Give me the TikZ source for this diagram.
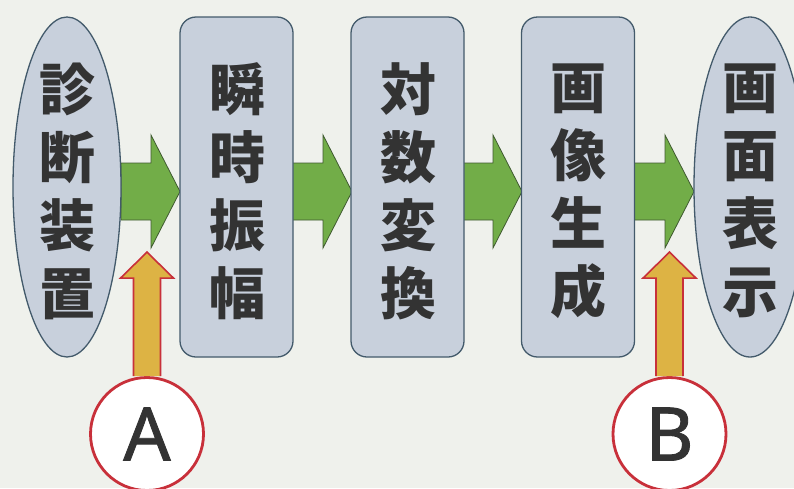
\documentclass[tikz,border=0pt]{standalone}
\usepackage{fontspec}
\newfontfamily\cjk{Noto Sans CJK JP}
\newfontfamily\lat[FakeBold=1.2]{Noto Sans}
\usetikzlibrary{shapes.geometric,calc}
\definecolor{bg}{HTML}{EFF1EC}
\definecolor{shapefill}{HTML}{C8D0DC}
\definecolor{shapeline}{HTML}{435A6B}
\definecolor{gfill}{HTML}{72AD48}
\definecolor{gline}{HTML}{3F5A30}
\definecolor{ofill}{HTML}{DDB344}
\definecolor{oline}{HTML}{C8303A}
\definecolor{txtc}{HTML}{333333}
\tikzset{
  ovalbox/.style={ellipse, draw=shapeline, fill=shapefill, line width=1.3pt, minimum width=108pt, minimum height=340pt, inner sep=0pt},
  stagebox/.style={rectangle, rounded corners=16pt, draw=shapeline, fill=shapefill, line width=1.3pt, minimum width=113pt, minimum height=340pt, inner sep=0pt},
  vtext/.style={align=center, text=txtc, font=\cjk\bfseries\fontsize{56}{68}\selectfont, inner sep=0pt},
  garrow/.style={fill=gfill, draw=gline, line width=0.8pt, line join=miter},
  oarrow/.style={fill=ofill, draw=oline, line width=1.6pt, line join=miter},
  markcircle/.style={circle, draw=oline, fill=white, line width=2.8pt, minimum size=113pt, inner sep=0pt, text=txtc, font=\lat\fontsize{74}{80}\selectfont}
}
\begin{document}
\begin{tikzpicture}[x=1pt,y=-1pt]
\fill[bg] (0,0) rectangle (794,488);
\useasboundingbox (0,0) rectangle (794,488);
\clip (0,0) rectangle (794,488);

% shapes (positions)
\coordinate (e0c) at (67,187);
\coordinate (b1c) at (236.5,187);
\coordinate (b2c) at (407.5,187);
\coordinate (b3c) at (578,187);
\coordinate (e4c) at (750,187);

% green arrows (drawn first, shapes on top)
\foreach \s/\t in {121/180, 290/352, 460/522, 632/694}{
  \draw[garrow] (\s,163) -- (\t-29,163) -- (\t-29,135) -- (\t,191.5) -- (\t-29,248) -- (\t-29,220) -- (\s,220) -- cycle;
}

\node[ovalbox] (e0) at (e0c) {};
\node[stagebox] (b1) at (b1c) {};
\node[stagebox] (b2) at (b2c) {};
\node[stagebox] (b3) at (b3c) {};
\node[ovalbox, minimum width=112pt] (e4) at (e4c) {};

\node[vtext] (t0) at (67,191) {診\\断\\装\\置};
\node[vtext] (t1) at (237,191) {瞬\\時\\振\\幅};
\node[vtext] (t2) at (408,191) {対\\数\\変\\換};
\node[vtext] (t3) at (578,191) {画\\像\\生\\成};
\node[vtext] (t4) at (750,191) {画\\面\\表\\示};

% markers
\node[markcircle] (cA) at (147,434) {A};
\node[markcircle] (cB) at (669.5,434) {B};

% orange arrows from circles upward
\draw[oarrow] ($(cA.north)+(-13.5,0)$) -- ++(0,-98) -- ++(-13,0) -- ($(cA.north)+(0,-124)$) -- ($(cA.north)+(26.5,-98)$) -- ($(cA.north)+(13.5,-98)$) -- ($(cA.north)+(13.5,0)$);
\draw[oarrow] ($(cB.north)+(-13.5,0)$) -- ++(0,-98) -- ++(-13,0) -- ($(cB.north)+(0,-124)$) -- ($(cB.north)+(26.5,-98)$) -- ($(cB.north)+(13.5,-98)$) -- ($(cB.north)+(13.5,0)$);
\end{tikzpicture}
\end{document}
